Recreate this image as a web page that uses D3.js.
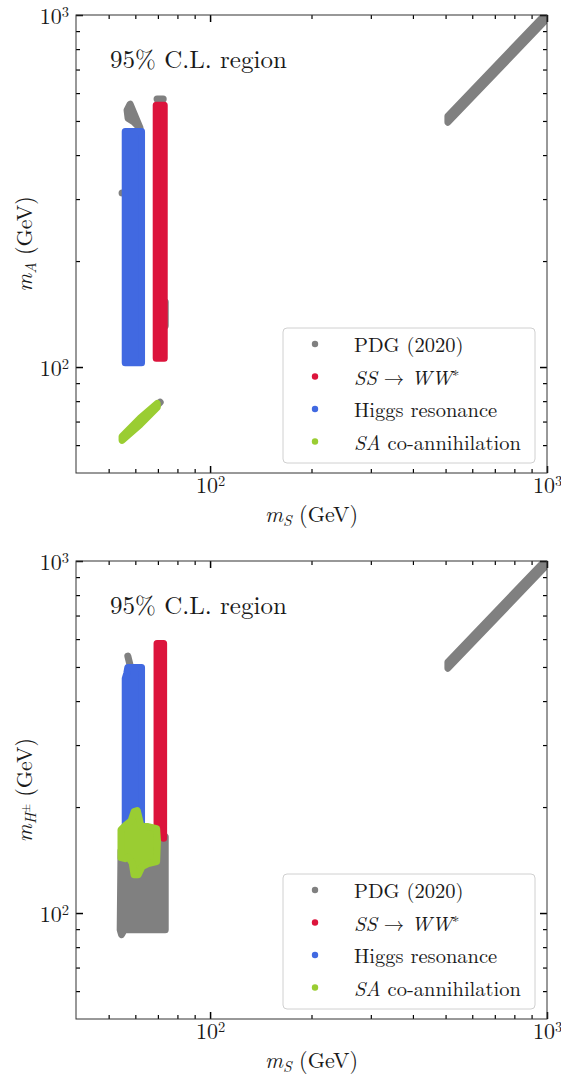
<!DOCTYPE html>
<html>
<head>
<meta charset="utf-8">
<script src="https://cdn.jsdelivr.net/npm/d3@7"></script>
<style>
body { margin: 0; background: #fff; }
</style>
</head>
<body>
<svg id="chart"></svg>
<script>
// axes ranges and ticks (GeV, log scales)
var xDomain = [40, 1000];
var yDomain = [50, 1000];
var majorTicks = [100, 1000];
var xMinorTicks = [50, 60, 70, 80, 90, 200, 300, 400, 500, 600, 700, 800, 900];
var yMinorTicks = [60, 70, 80, 90, 200, 300, 400, 500, 600, 700, 800, 900];

var seriesNames = ["PDG (2020)", "SS→WW*", "Higgs resonance", "SA co-annihilation"];

// regions of the scatter clouds as (m_S, m_A) outlines
var pdgTop = [
  [[508, 516], [1060, 1076], [1060, 1034], [508, 496]],
  [[57.9, 558], [56.7, 537], [57.1, 509], [59.5, 496], [62.0, 477]],
  [[69.6, 577], [72.6, 577]],
  [[73.6, 153], [73.6, 131]],
  [[54.8, 312], [54.8, 312]],
  [[67.8, 75.8], [71.1, 79.4]]
];
var wwTop = [
  [[69.2, 554.6], [73.1, 554.6], [73.1, 105.9], [69.2, 105.9]]
];
var higgsTop = [
  [[56.0, 466.5], [62.6, 466.5], [62.6, 102.8], [56.0, 102.8]]
];
var saTop = [
  [[54.8, 63.5], [62.0, 71.6], [69.7, 78.8], [69.7, 76.8], [62.0, 68.6], [54.8, 61.9]]
];

// second panel: (m_S, m_H+-)
var pdgBottom = [
  [[508, 516], [1060, 1076], [1060, 1034], [508, 496]],
  [[57.0, 537], [57.9, 505]],
  [[54.4, 150.4], [62.0, 150.4], [73.6, 164.8], [73.6, 89.6], [55.6, 89.6], [54.6, 86.8], [54.1, 89.6]]
];
var wwBottom = [
  [[69.6, 583], [72.8, 583], [72.8, 163], [69.6, 175]]
];
var higgsBottom = [
  [[56.0, 463.7], [56.6, 480], [57.0, 498.6], [62.6, 498.6], [62.6, 171], [56.0, 171]]
];
var saBottom = [
  [[54.4, 172.5], [56.4, 178.3], [58.3, 183], [59.5, 194.1], [60.8, 195.4], [61.6, 185.4],
   [62.4, 176], [65.5, 176], [69.4, 173.7], [69.8, 160.6], [69.4, 139.9], [65.5, 138.1],
   [62.8, 135.4], [61.2, 128.5], [59.5, 128.5], [58.7, 139.0], [57.1, 144.6], [56.0, 142.7], [54.4, 143.6]]
];

var colors = ["#808080", "#dc143c", "#4169e1", "#9acd32"];

var width = 561, height = 1075;
var left = 76, right = 547, plotH = 458;
var markerR = 3.5;
var font = "Latin Modern Roman, CMU Serif, Liberation Serif, serif";
var ink = "#1a1a1a";

var svg = d3.select("#chart").attr("width", width).attr("height", height)
  .attr("font-family", font);

function addText(parent) {
  return parent.append("text").attr("font-family", font).attr("fill", ink);
}

function supLabel(sel, v) {
  sel.text("");
  sel.append("tspan").text("10");
  sel.append("tspan").attr("dy", -7).style("font-size", "14.5px").text(Math.round(Math.log10(v)));
}

function drawPanel(id, top, series, yLabel) {
  var x = d3.scaleLog().domain(xDomain).range([left, right]);
  var y = d3.scaleLog().domain(yDomain).range([top + plotH, top]);
  var bottom = top + plotH;

  svg.append("clipPath").attr("id", "clip" + id)
    .append("rect").attr("x", left).attr("y", top).attr("width", right - left).attr("height", plotH);

  var shape = d3.line()
    .x(function(d) { return x(d[0]); })
    .y(function(d) { return y(d[1]); })
    .curve(d3.curveLinearClosed);

  var plot = svg.append("g").attr("clip-path", "url(#clip" + id + ")");
  series.forEach(function(s, i) {
    plot.selectAll(null)
      .data(s)
      .enter().append("path")
      .attr("d", shape)
      .attr("fill", colors[i])
      .attr("stroke", colors[i])
      .attr("stroke-width", markerR * 2)
      .attr("stroke-linejoin", "round")
      .attr("stroke-linecap", "round");
  });

  // ticks on all four sides, pointing inward
  var axes = [
    [d3.axisBottom(x), "translate(0," + bottom + ")", xMinorTicks],
    [d3.axisTop(x), "translate(0," + top + ")", xMinorTicks],
    [d3.axisLeft(y), "translate(" + left + ",0)", yMinorTicks],
    [d3.axisRight(y), "translate(" + right + ",0)", yMinorTicks]
  ];
  axes.forEach(function(a, i) {
    var minor = svg.append("g").attr("transform", a[1])
      .call(a[0].tickValues(a[2]).tickSize(-4).tickFormat(""));
    var major = svg.append("g").attr("transform", a[1])
      .call(a[0].tickValues(majorTicks).tickSize(-7).tickPadding(8).tickFormat(function(d) { return d; }));
    [minor, major].forEach(function(g) {
      g.select(".domain").remove();
      g.selectAll("line").attr("stroke", "#000").attr("stroke-width", g === major ? 1.5 : 1.2);
      g.selectAll("text").remove();
    });
    if (i === 0) {
      major.selectAll(".tick").each(function(d) {
        var t = addText(d3.select(this)).attr("y", 20).attr("text-anchor", "middle").style("font-size", "22px");
        supLabel(t, d);
      });
    }
    if (i === 2) {
      major.selectAll(".tick").each(function(d) {
        var t = addText(d3.select(this)).attr("x", -7).attr("y", 8).attr("text-anchor", "end").style("font-size", "22px");
        supLabel(t, d);
      });
    }
  });

  svg.append("rect")
    .attr("x", left).attr("y", top).attr("width", right - left).attr("height", plotH)
    .attr("fill", "none").attr("stroke", "#333").attr("stroke-width", 1);

  addText(svg)
    .attr("x", 110).attr("y", top + 53)
    .style("font-size", "25px")
    .text("95% C.L. region");

  // x label
  var xl = addText(svg)
    .attr("x", (left + right) / 2).attr("y", bottom + 49)
    .attr("text-anchor", "middle").style("font-size", "22px");
  xl.append("tspan").style("font-style", "italic").text("m");
  xl.append("tspan").attr("dy", 4).style("font-size", "15.5px").style("font-style", "italic").text("S");
  xl.append("tspan").attr("dy", -4).text(" (GeV)");

  // y label
  var yl = addText(svg)
    .attr("transform", "translate(32," + (top + plotH / 2) + ") rotate(-90)")
    .attr("text-anchor", "middle").style("font-size", "22px");
  yl.append("tspan").style("font-style", "italic").text("m");
  if (yLabel === "A") {
    yl.append("tspan").attr("dy", 4).style("font-size", "15.5px").style("font-style", "italic").text("A");
    yl.append("tspan").attr("dy", -4).text(" (GeV)");
  } else {
    yl.append("tspan").attr("dy", 4).style("font-size", "15.5px").style("font-style", "italic").text("H");
    yl.append("tspan").attr("dy", -6).style("font-size", "11px").text("±");
    yl.append("tspan").attr("dy", 2).text(" (GeV)");
  }

  // legend
  var lg = svg.append("g").attr("transform", "translate(283," + (bottom - 145) + ")");
  lg.append("rect")
    .attr("width", 252).attr("height", 135).attr("rx", 4)
    .attr("fill", "#fff").attr("fill-opacity", 0.8)
    .attr("stroke", "#d0d0d0").attr("stroke-width", 1);
  seriesNames.forEach(function(name, i) {
    var ry = 16 + i * 32.5;
    lg.append("circle").attr("cx", 32).attr("cy", ry).attr("r", 3.2).attr("fill", colors[i]);
    var t = addText(lg).attr("x", 71).attr("y", ry + 8).style("font-size", "20.5px");
    if (i === 1) {
      t.append("tspan").style("font-style", "italic").text("SS");
      t.append("tspan").text(" → ");
      t.append("tspan").style("font-style", "italic").text("WW");
      t.append("tspan").attr("dy", -8).style("font-size", "14px").text("∗");
    } else if (i === 3) {
      t.append("tspan").style("font-style", "italic").text("SA");
      t.append("tspan").text(" co-annihilation");
    } else {
      t.text(name);
    }
  });
}

drawPanel(1, 15, [pdgTop, wwTop, higgsTop, saTop], "A");
drawPanel(2, 561, [pdgBottom, wwBottom, higgsBottom, saBottom], "H");
</script>
</body>
</html>
